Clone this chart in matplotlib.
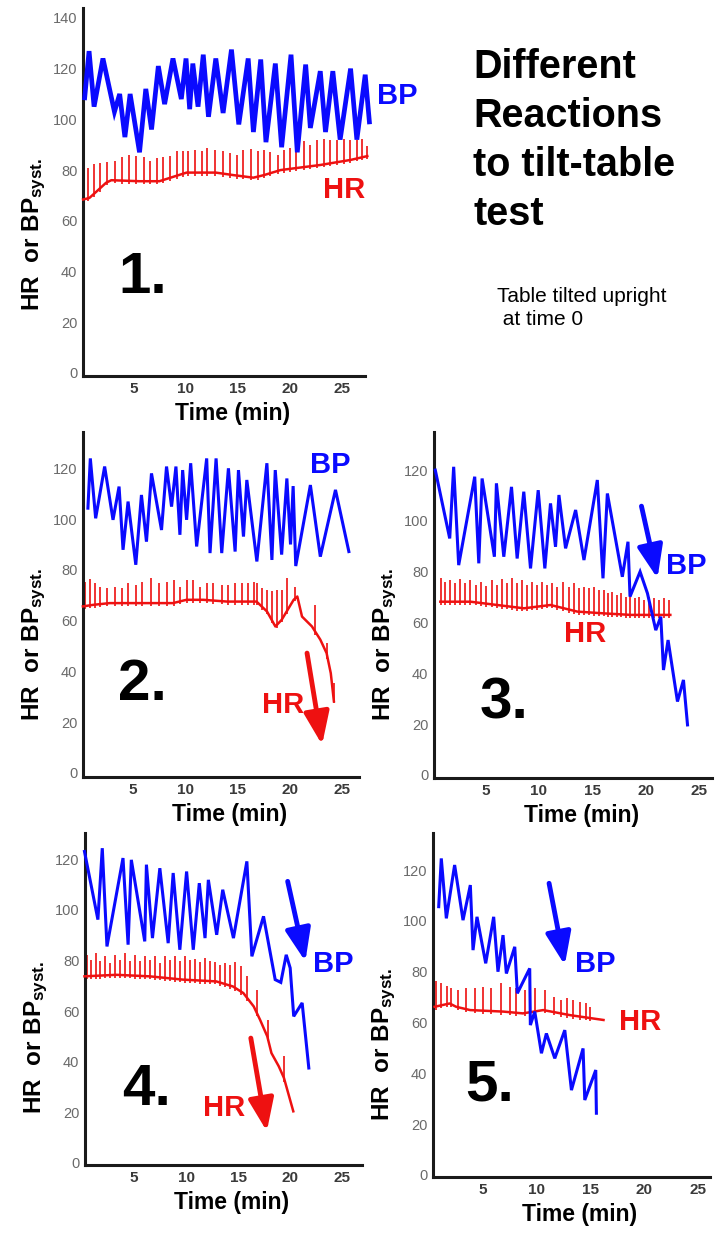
import numpy as np
import matplotlib
matplotlib.use("Agg")
import matplotlib.pyplot as plt

plt.rcParams["font.family"] = ["Liberation Sans", "DejaVu Sans"]
plt.rcParams["mathtext.fontset"] = "custom"
plt.rcParams["mathtext.rm"] = "Liberation Sans:bold"
plt.rcParams["mathtext.it"] = "Liberation Sans:bold"

BLUE = "#0a0aff"
RED = "#ee1111"
W, H = 723, 1236

# ---- panel 1: normal reaction
p1_bp_t = [0.35, 0.77, 1.25, 2.1, 3.2, 3.7, 4.2, 4.7, 5.6, 6.2, 6.75, 7.4, 8.0, 8.8, 9.6, 10.05, 10.4,
           10.7, 11.2, 11.7, 12.2, 12.9, 13.6, 14.4, 15.1, 16.0, 16.5, 17.2, 17.7, 18.6, 19.2, 20.1,
           20.7, 21.5, 21.95, 22.9, 23.4, 24.1, 24.8, 25.8, 26.4, 27.2, 27.6]
p1_bp_v = [108.5, 126.9, 105, 124, 103, 110, 93, 110, 87, 112, 96, 121, 106, 124, 108, 124, 104,
           122, 105, 125.5, 101, 124, 102.5, 127.5, 98, 124, 95, 123.6, 91, 122, 89, 125.5,
           87, 121.6, 96.6, 119, 95, 119, 92, 120, 92, 117.6, 99]
p1_hr_t = [0.2, 0.8, 1.5, 2.4, 2.9, 5.6, 7.5, 10.1, 12.9, 14.6, 16.5, 17.5, 19.1, 21.0, 22.9, 25.8, 27.4]
p1_hr_v = [68.4, 69, 71.6, 75, 76, 75.6, 75.6, 79, 79, 78, 77, 78, 80, 81, 82, 84, 85.5]
p1_tick_t = [0.67, 1.22, 1.79, 2.53, 3.23, 3.97, 4.61, 5.31, 6.02, 6.59, 7.23, 7.87, 8.51, 9.15, 9.73,
             10.27, 10.91, 11.55, 12.03, 12.83, 13.57, 14.27, 14.91, 15.55, 16.26, 16.9, 17.47, 18.11,
             18.82, 19.46, 20.03, 20.61, 21.31, 21.95, 22.59, 23.23, 23.87, 24.51, 25.15, 25.79,
             26.43, 26.91, 27.39]
p1_tick_top = [80.8, 82.2, 82.8, 83.1, 83.5, 85.2, 86.1, 85.5, 85.1, 83.5, 84.8, 85.2, 85.5, 87.4, 87.4,
               87.4, 88.1, 87.4, 88.7, 88.1, 87.4, 86.8, 86.1, 88.1, 88.3, 87.4, 88.1, 87.0,
               86.1, 88.1, 88.7, 90.7, 91.4, 90.0, 92.0, 92.3, 92.0, 92.0, 92.3, 92.0,
               92.0, 92.3, 89.4]

# ---- panel 2: HR drop
p2_bp_t = [0.67, 0.9, 1.41, 2.27, 3.07, 3.65, 4.03, 4.51, 5.25, 5.79, 6.27, 6.75, 7.71, 8.19, 8.67,
           9.09, 9.47, 9.73, 10.11, 10.5, 11.07, 12.03, 12.35, 12.93, 13.47, 14.11, 14.75, 15.07,
           15.55, 15.87, 16.83, 17.79, 18.27, 18.59, 19.2, 19.7, 20.05, 20.3, 20.55, 21.95, 22.9,
           24.35, 25.63]
p2_bp_v = [104.3, 123.9, 100.3, 120.7, 99.7, 112.8, 87.9, 106.9, 82, 109.5, 91.1, 118, 95.7, 120.7, 104.9,
           120.7, 93.8, 119.3, 99.7, 122, 89.2, 123.9, 86.6, 123.9, 86.6, 120, 87.2, 119.3,
           93.1, 115.4, 83.3, 122, 83.9, 119.3, 86, 116, 90, 113, 81.5, 113.4, 85.2,
           111.5, 87.2]
p2_hr_t = [0.19, 1.15, 2.75, 5.0, 8.8, 10.1, 11.7, 14.0, 16.8, 17.8, 18.6, 19.2, 20.35, 20.7, 21.15,
           22.1, 22.9, 23.5, 23.9, 24.2]
p2_hr_v = [65.6, 66.2, 66.9, 66.9, 66.9, 68.2, 68.2, 67.5, 67.5, 63.6, 57.7, 60.3, 68.2, 69.5, 61.6,
           57.7, 52.5, 47.2, 39.3, 28.2]
p2_tick_t = [0.35, 0.83, 1.31, 1.79, 2.5, 3.23, 3.97, 4.51, 5.25, 5.89, 6.66, 7.49, 8.19, 8.9, 9.47,
             10.11, 10.69, 11.39, 12.03, 12.67, 13.47, 14.11, 14.75, 15.39, 16.03, 16.51, 16.83,
             17.31, 17.79, 18.27, 18.75, 19.23, 19.71, 20.51, 22.43, 23.55, 24.19]
p2_tick_top = [75.4, 76.3, 74.8, 73.4, 72.8, 73.4, 72.8, 74.8, 74.1, 75.4, 76.7, 74.8, 75.4, 76.1, 73.4,
               76.1, 76.1, 73.4, 74.8, 74.8, 74.1, 74.1, 74.8, 74.8, 74.8, 75.4, 74.8,
               72.8, 72.1, 71.5, 72.1, 72.1, 76.7, 73.4, 66.2, 51.1, 35.4]

# ---- panel 3: BP drop
p3_bp_t = [0.31, 1.66, 2.03, 2.5, 4.0, 4.38, 4.69, 5.84, 6.03, 6.72, 7.44, 7.97, 8.59, 9.22, 9.94,
           10.56, 11.09, 11.56, 11.88, 12.5, 13.44, 14.22, 15.47, 16.0, 16.41, 17.81, 18.34, 18.53,
           19.47, 20.16, 20.94, 21.41, 21.66, 22.09, 22.97, 23.53, 23.91]
p3_bp_v = [120, 93.1, 121.3, 82.6, 117.4, 83.3, 116.7, 85.9, 114.8, 85.9, 113.4, 85.2, 111.5, 81.3, 112.1,
           81.3, 106.9, 89.8, 110.2, 89.2, 104.3, 84.6, 116.1, 77.4, 110.8, 78, 91.8, 70.2,
           80, 71.5, 57, 62.3, 41.3, 53.1, 28.9, 37.4, 19.7]
p3_hr_t = [0.78, 3.6, 6.1, 8.6, 11.1, 13.6, 16.1, 18.6, 21.1, 22.3]
p3_hr_v = [68.2, 68.2, 66.9, 65.6, 66.9, 64.3, 63.6, 63.0, 63.0, 63.0]
p3_tick_t = [0.84, 1.25, 1.72, 2.19, 2.66, 3.13, 3.59, 4.16, 4.63, 5.09, 5.63, 6.09, 6.56, 7.03, 7.5,
             7.97, 8.44, 8.91, 9.38, 9.84, 10.31, 10.78, 11.25, 11.72, 12.28, 12.81, 13.28, 13.75,
             14.22, 14.69, 15.16, 15.63, 16.09, 16.47, 16.88, 17.34, 17.72, 18.13, 18.53, 18.97,
             19.38, 19.84, 20.31, 20.78, 21.25, 21.72, 22.19]
p3_tick_top = [77.4, 76.1, 76.7, 75.4, 77.0, 75.4, 76.7, 74.8, 76.1, 74.4, 76.7, 74.8, 77.0, 75.4, 77.4,
               75.4, 76.7, 74.8, 76.1, 74.8, 76.1, 74.8, 75.7, 74.1, 76.1, 74.1, 75.4, 73.4,
               74.1, 73.4, 74.1, 72.8, 72.8, 71.5, 72.1, 70.8, 71.5, 70.2, 70.8, 69.5,
               70.2, 68.9, 70.2, 69.5, 68.9, 69.5, 68.9]

# ---- panel 4: BP and HR drop
p4_bp_t = [0.24, 1.53, 1.95, 2.4, 3.94, 4.43, 4.74, 6.03, 6.19, 6.77, 7.48, 8.28, 8.76, 9.4, 10.05,
           10.69, 11.27, 11.82, 12.14, 12.94, 13.52, 14.55, 15.84, 16.32, 17.44, 18.56, 19.1, 19.62,
           20.0, 20.34, 21.15, 21.79]
p4_bp_v = [123, 96.1, 124.3, 85.5, 120.4, 86.2, 119.7, 87.5, 117.8, 88.8, 116.4, 86.8, 114.5, 84.2, 115.1,
           84.2, 110.5, 88.8, 111.8, 90.1, 107.9, 88.8, 119.1, 81.6, 97.4, 72.4, 71.3, 82.2,
           77.0, 57.9, 63.2, 37.5]
p4_hr_t = [0.24, 3.3, 6.5, 9.7, 12.9, 14.5, 15.5, 16.5, 17.1, 17.8, 18.2, 18.9, 19.4, 20.3]
p4_hr_v = [73.7, 74.3, 73.7, 72.4, 71.7, 69.7, 67.1, 61.8, 56.6, 50.0, 43.4, 38.2, 33.6, 20.4]
p4_tick_t = [0.47, 0.88, 1.3, 1.69, 2.17, 2.65, 3.14, 3.62, 4.1, 4.58, 5.06, 5.55, 6.03, 6.51, 6.99,
             7.48, 7.96, 8.44, 8.92, 9.41, 9.89, 10.37, 10.85, 11.33, 11.82, 12.3, 12.78, 13.26,
             13.75, 14.23, 14.71, 15.26, 15.9, 16.8, 17.83, 19.43]
p4_tick_top = [82.2, 80.3, 82.9, 79.6, 81.6, 78.9, 82.2, 80.3, 82.9, 79.6, 82.2, 79.6, 81.6, 80.3, 81.6,
               78.9, 81.6, 80.3, 81.8, 79.6, 81.6, 80.3, 80.5, 79.2, 80.9, 79.6, 79.2, 78.3,
               78.9, 78.3, 79.2, 77.6, 73.7, 68.4, 56.6, 42.1]

# ---- panel 5: early BP drop
p5_bp_t = [0.88, 1.12, 1.59, 2.36, 3.14, 3.82, 4.07, 4.44, 5.25, 5.99, 6.39, 6.86, 7.17, 7.95, 8.19,
           9.34, 9.4, 9.81, 10.43, 10.89, 11.67, 12.6, 13.22, 14.3, 14.46, 15.48, 15.54]
p5_bp_v = [105.6, 124.6, 101.0, 122.0, 100.3, 114.1, 88.5, 101.6, 83.3, 101.6, 80.0, 94.4, 79.3, 89.8, 71.5,
           81.3, 59.0, 64.3, 47.9, 55.7, 45.9, 57.0, 33.4, 49.8, 29.5, 41.3, 24.3]
p5_hr_t = [0.5, 1.9, 2.5, 3.8, 6.9, 8.7, 10.6, 13.1, 16.2]
p5_hr_v = [66.2, 67.5, 66.2, 64.9, 64.3, 63.6, 64.9, 62.9, 61.0]
p5_tick_t = [0.6, 1.12, 1.65, 2.05, 2.68, 3.45, 4.22, 5.0, 5.77, 6.7, 7.48, 8.1, 8.87, 9.8, 10.74,
             11.6, 12.29, 12.81, 13.37, 13.99, 14.55, 14.98]
p5_tick_top = [76.3, 75.4, 74.4, 73.4, 72.8, 73.4, 73.4, 74.1, 73.4, 75.4, 74.1, 73.4, 72.8, 73.4, 72.8,
               70.2, 68.9, 69.5, 68.9, 68.2, 67.5, 66.2]

x_ticks = [5, 10, 15, 20, 25]
title_lines = ["Different", "Reactions", "to tilt-table", "test"]
note_lines = ["Table tilted upright", " at time 0"]

panels = [
    dict(num="1.", box=(83, 365, 8, 376), xlim=(0.19, 27.18), ylim=(-1.2, 143.9), yticks=range(0, 141, 20),
         bp=(p1_bp_t, p1_bp_v), hr=(p1_hr_t, p1_hr_v), ticks=(p1_tick_t, p1_tick_top), bp_lw=3.4,
         bp_lab=(30.3, 109.2), hr_lab=(25.2, 72.2), num_xy=(5.9, 37.5), arrows=[]),
    dict(num="2.", box=(83, 359, 432, 777), xlim=(0.2, 26.6), ylim=(-1.6, 134.3), yticks=range(0, 121, 20),
         bp=(p2_bp_t, p2_bp_v), hr=(p2_hr_t, p2_hr_v), ticks=(p2_tick_t, p2_tick_top), bp_lw=2.2,
         bp_lab=(23.85, 121.3), hr_lab=(19.35, 26.8), num_xy=(5.9, 34.6),
         arrows=[((21.63, 47.2), (23.07, 11.1), RED)]),
    dict(num="3.", box=(434, 712, 432, 778), xlim=(0.19, 26.2), ylim=(-1.2, 135), yticks=range(0, 121, 20),
         bp=(p3_bp_t, p3_bp_v), hr=(p3_hr_t, p3_hr_v), ticks=(p3_tick_t, p3_tick_top), bp_lw=2.2,
         bp_lab=(23.8, 82.3), hr_lab=(14.3, 55.5), num_xy=(6.75, 28.3),
         arrows=[((19.6, 105.8), (21.1, 77.4), BLUE)]),
    dict(num="4.", box=(85, 362, 833, 1165), xlim=(0.29, 26.9), ylim=(-0.8, 130.3), yticks=range(0, 121, 20),
         bp=(p4_bp_t, p4_bp_v), hr=(p4_hr_t, p4_hr_v), ticks=(p4_tick_t, p4_tick_top), bp_lw=2.2,
         bp_lab=(24.1, 78.6), hr_lab=(13.65, 21.7), num_xy=(6.15, 28.8),
         arrows=[((19.76, 111.2), (21.46, 79.6), BLUE), ((16.22, 49.3), (17.76, 12.5), RED)]),
    dict(num="5.", box=(433, 710, 833, 1177), xlim=(0.35, 26.1), ylim=(-0.8, 134.6), yticks=range(0, 121, 20),
         bp=(p5_bp_t, p5_bp_v), hr=(p5_hr_t, p5_hr_v), ticks=(p5_tick_t, p5_tick_top), bp_lw=2.2,
         bp_lab=(15.4, 83.1), hr_lab=(19.6, 60.2), num_xy=(5.6, 35.4),
         arrows=[((11.14, 114.8), (12.6, 82.6), BLUE)]),
]

fig = plt.figure(figsize=(W / 100, H / 100), dpi=100)

for p in panels:
    l, r, t, b = p["box"]
    ax = fig.add_axes([l / W, 1 - b / H, (r - l) / W, (b - t) / H])
    ax.set_xlim(*p["xlim"])
    ax.set_ylim(*p["ylim"])
    for s in ["top", "right"]:
        ax.spines[s].set_visible(False)
    for s in ["left", "bottom"]:
        ax.spines[s].set_linewidth(2.2)
        ax.spines[s].set_color("#1a1a1a")
    ax.set_xticks(x_ticks)
    ax.set_yticks(list(p["yticks"]))
    ax.tick_params(length=0)
    ax.tick_params(axis="y", labelsize=10.5, labelcolor="#6a6a6a", pad=4)
    ax.tick_params(axis="x", labelsize=11, labelcolor="#3a3a3a", pad=4)
    for lab in ax.get_xticklabels():
        lab.set_fontweight("bold")

    # HR line with beat ticks
    hr_t, hr_v = p["hr"]
    tk_t, tk_top = p["ticks"]
    base = np.interp(tk_t, hr_t, hr_v) - 1.2
    ax.vlines(tk_t, base, tk_top, color=RED, lw=1.2, zorder=2, clip_on=False)
    ax.plot(hr_t, hr_v, color=RED, lw=1.8, zorder=3, clip_on=False)

    # BP zigzag
    bp_t, bp_v = p["bp"]
    ax.plot(bp_t, bp_v, color=BLUE, lw=p["bp_lw"], zorder=4, clip_on=False, solid_joinstyle="miter")

    for start, end, col in p["arrows"]:
        ax.annotate("", xy=end, xytext=start,
                    arrowprops=dict(arrowstyle="-|>,head_width=0.35,head_length=0.9",
                                    color=col, lw=3.5, mutation_scale=22, shrinkA=0, shrinkB=0),
                    zorder=5)

    ax.text(*p["bp_lab"], "BP", color=BLUE, fontsize=21, fontweight="bold", ha="center", va="center")
    ax.text(*p["hr_lab"], "HR", color=RED, fontsize=21, fontweight="bold", ha="center", va="center")
    ax.text(*p["num_xy"], p["num"], color="black", fontsize=42, fontweight="bold", ha="center", va="center")

    ax.annotate("Time (min)", xy=(0.53, 0), xycoords="axes fraction", xytext=(0, -27),
                textcoords="offset points", ha="center", va="center", fontsize=16.5, fontweight="bold")
    ax.set_ylabel("HR  or BP$_{\\mathrm{syst.}}$", fontsize=17.5, fontweight="bold")
    ax.yaxis.set_label_coords(-35 / (r - l), 0.385)

for i, line in enumerate(title_lines):
    fig.text(473 / W, 1 - (78 + 49 * i) / H, line, fontsize=28.5, fontweight="bold", va="baseline", ha="left")
fig.text(497 / W, 1 - 302 / H, note_lines[0], fontsize=15, va="baseline", ha="left")
fig.text(497 / W, 1 - 325 / H, note_lines[1], fontsize=15, va="baseline", ha="left")

fig.savefig("out.png", dpi=100)
